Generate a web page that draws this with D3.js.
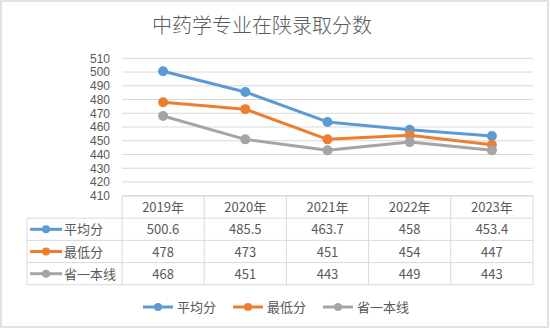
<!DOCTYPE html>
<html><head><meta charset="utf-8">
<script src="https://cdn.jsdelivr.net/npm/d3@7"></script>
<style>body{margin:0;background:#fff}svg{display:block}</style>
</head><body>
<svg id="c" width="550" height="330"></svg>
<script>
const title = "中药学专业在陕录取分数";
const categories = ["2019年","2020年","2021年","2022年","2023年"];
const seriesNames = ["平均分","最低分","省一本线"];
const avgScores = [500.6, 485.5, 463.7, 458, 453.4];
const minScores = [478, 473, 451, 454, 447];
const lineScores = [468, 451, 443, 449, 443];
const yTicks = [410,420,430,440,450,460,470,480,490,500,510];
const colors = ["#5B9BD5","#ED7D31","#A5A5A5"];
const series = [avgScores, minScores, lineScores];

const svg = d3.select("#c");
const font = "'Noto Sans CJK SC', 'Noto Sans', sans-serif";
const numFont = "'Liberation Sans', Arial, sans-serif";
const txt = "#595959", grid = "#d9d9d9";

svg.append("rect").attr("x",1).attr("y",1).attr("width",547).attr("height",326)
  .attr("fill","#fff").attr("stroke","#d9d9d9").attr("stroke-width",1.5);

svg.append("text").attr("x",262).attr("y",33).attr("text-anchor","middle")
  .attr("font-family",font).attr("font-weight",300).attr("font-size",20).attr("fill",txt).text(title);

const x0 = 122, x1 = 533;
const x = d3.scaleBand().domain(categories).range([x0,x1]);
const y = d3.scaleLinear().domain([410,510]).range([195.7,58.3]);

// gridlines
svg.append("g").selectAll("line").data(yTicks).join("line")
  .attr("x1",x0).attr("x2",x1).attr("y1",d=>y(d)).attr("y2",d=>y(d))
  .attr("stroke",grid).attr("stroke-width",1);

// y axis labels
const yAxis = d3.axisLeft(y).tickValues(yTicks).tickSize(0).tickPadding(12);
const ga = svg.append("g").attr("transform",`translate(${x0},0)`).call(yAxis);
ga.select(".domain").remove();
ga.selectAll("text").attr("font-family",numFont).attr("font-size",12).attr("fill",txt);

// lines
const line = d3.line().x((d,i)=>x(categories[i])+x.bandwidth()/2).y(d=>y(d));
series.forEach((s,k)=>{
  svg.append("path").datum(s).attr("d",line).attr("fill","none")
    .attr("stroke",colors[k]).attr("stroke-width",3).attr("stroke-linejoin","round");
  svg.append("g").selectAll("circle").data(s).join("circle")
    .attr("cx",(d,i)=>x(categories[i])+x.bandwidth()/2).attr("cy",d=>y(d))
    .attr("r",5).attr("fill",colors[k]);
});

// table
const tTop = 196, rowH = 22.2, tLeft = 27;
const tg = svg.append("g");
const hl = (xa,xb,yy)=>tg.append("line").attr("x1",xa).attr("x2",xb).attr("y1",yy).attr("y2",yy).attr("stroke",grid);
const vl = (xx,ya,yb)=>tg.append("line").attr("x1",xx).attr("x2",xx).attr("y1",ya).attr("y2",yb).attr("stroke",grid);
hl(x0,x1,tTop);
for(let r=1;r<=4;r++) hl(tLeft,x1,tTop+rowH*r);
vl(tLeft,tTop+rowH,tTop+rowH*4);
vl(x0,tTop,tTop+rowH*4);
categories.forEach(c=>vl(x(c)+x.bandwidth(),tTop,tTop+rowH*4));
// header
tg.selectAll("text.h").data(categories).join("text").attr("class","h")
  .attr("x",d=>x(d)+x.bandwidth()/2).attr("y",tTop+rowH/2+5).attr("text-anchor","middle")
  .attr("font-family",font).attr("font-size",13).attr("fill",txt).text(d=>d);
series.forEach((s,k)=>{
  const cy = tTop+rowH*(k+1)+rowH/2;
  tg.append("line").attr("x1",30).attr("x2",62).attr("y1",cy).attr("y2",cy)
    .attr("stroke",colors[k]).attr("stroke-width",3);
  tg.append("circle").attr("cx",46).attr("cy",cy).attr("r",4).attr("fill",colors[k]);
  tg.append("text").attr("x",64).attr("y",cy+5).attr("font-family",font)
    .attr("font-size",13).attr("fill",txt).text(seriesNames[k]);
  tg.selectAll(null).data(s).join("text")
    .attr("x",(d,i)=>x(categories[i])+x.bandwidth()/2).attr("y",cy+5).attr("text-anchor","middle")
    .attr("font-family",font).attr("font-size",13).attr("fill",txt).text(d=>d);
});

// legend
const lx = [143,233,323], ly = 307;
seriesNames.forEach((n,k)=>{
  svg.append("line").attr("x1",lx[k]).attr("x2",lx[k]+30).attr("y1",ly).attr("y2",ly)
    .attr("stroke",colors[k]).attr("stroke-width",3);
  svg.append("circle").attr("cx",lx[k]+15).attr("cy",ly).attr("r",4).attr("fill",colors[k]);
  svg.append("text").attr("x",lx[k]+34).attr("y",ly+5).attr("font-family",font)
    .attr("font-size",13).attr("fill",txt).text(n);
});
</script>
</body></html>
